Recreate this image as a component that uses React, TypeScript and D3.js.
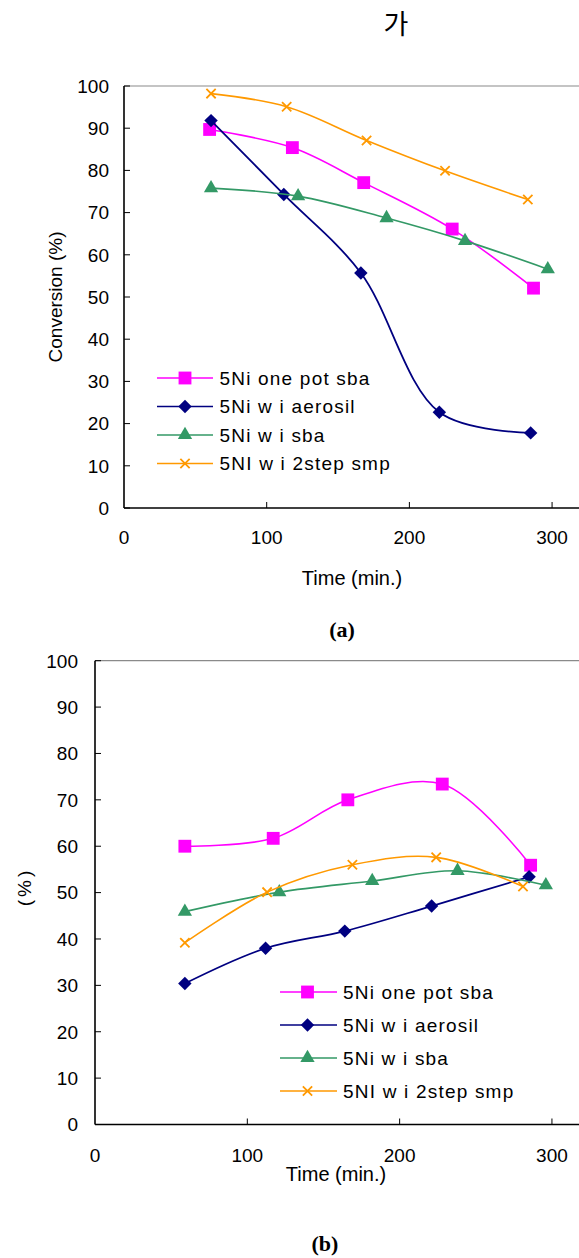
import React from "react";
import * as d3 from "d3";

// series names as in the legend
const seriesNames = ["5Ni one pot sba", "5Ni w i aerosil", "5Ni w i sba", "5NI w i 2step smp"];
const seriesColors = ["#ff00ff", "#000080", "#339966", "#ff9900"];
const seriesSymbols = ["square", "diamond", "triangle", "x"];

// (a) conversion
const aOnePotTime = [60, 118, 168, 230, 287];
const aOnePotConv = [89.7, 85.4, 77.1, 66.1, 52.1];
const aAerosilTime = [61, 112, 166, 221, 285];
const aAerosilConv = [91.8, 74.3, 55.7, 22.7, 17.8];
const aSbaTime = [61, 122, 184, 239, 297];
const aSbaConv = [75.8, 73.9, 68.7, 63.3, 56.6];
const a2stepTime = [61, 114, 170, 225, 283];
const a2stepConv = [98.2, 95.1, 87.1, 79.9, 73.1];

// (b) %
const bOnePotTime = [59, 117, 166, 228, 286];
const bOnePotVal = [60.0, 61.7, 70.0, 73.4, 55.9];
const bAerosilTime = [59, 112, 164, 221, 285];
const bAerosilVal = [30.4, 38.0, 41.7, 47.1, 53.4];
const bSbaTime = [59, 121, 182, 238, 296];
const bSbaVal = [45.9, 50.1, 52.5, 54.7, 51.6];
const b2stepTime = [59, 113, 169, 224, 281];
const b2stepVal = [39.2, 50.1, 56.0, 57.6, 51.3];

const xTicks = [0, 100, 200, 300];
const yTicks = [0, 10, 20, 30, 40, 50, 60, 70, 80, 90, 100];

const FONT = "'Liberation Sans', Arial, sans-serif";

function zip(xs: number[], ys: number[]) {
  return xs.map((x, i) => ({ x, y: ys[i] }));
}

const panelA = [
  zip(aOnePotTime, aOnePotConv),
  zip(aAerosilTime, aAerosilConv),
  zip(aSbaTime, aSbaConv),
  zip(a2stepTime, a2stepConv),
];
const panelB = [
  zip(bOnePotTime, bOnePotVal),
  zip(bAerosilTime, bAerosilVal),
  zip(bSbaTime, bSbaVal),
  zip(b2stepTime, b2stepVal),
];

function Marker({ kind, color, x, y }: { kind: string; color: string; x: number; y: number }) {
  if (kind === "square") {
    const p = d3.symbol().type(d3.symbolSquare).size(165)();
    return <path d={p || ""} transform={`translate(${x},${y})`} fill={color} />;
  }
  if (kind === "diamond") {
    const p = d3.symbol().type(d3.symbolSquare).size(90)();
    return <path d={p || ""} transform={`translate(${x},${y}) rotate(45)`} fill={color} />;
  }
  if (kind === "triangle") {
    const p = d3.symbol().type(d3.symbolTriangle).size(88)();
    return <path d={p || ""} transform={`translate(${x},${y})`} fill={color} />;
  }
  const p = d3.symbol().type(d3.symbolX).size(58)();
  return <path d={p || ""} transform={`translate(${x},${y})`} fill="none" stroke={color} strokeWidth={1.8} />;
}

type PanelProps = {
  data: { x: number; y: number }[][];
  left: number;
  right: number;
  top: number;
  bottom: number;
  yLabelGap: number;
  xLabelDy: number;
  xTitle: { x: number; y: number };
  yTitle: { x: number; y: number; text: string; spacing: number };
  legend: { x1: number; x2: number; mx: number; tx: number; y0: number; dy: number };
};

function Panel(props: PanelProps) {
  const { data, left, right, top, bottom, yLabelGap, xLabelDy, xTitle, yTitle, legend } = props;
  const x = d3.scaleLinear().domain([0, 320]).range([left, right]);
  const y = d3.scaleLinear().domain([0, 100]).range([bottom, top]);
  const line = d3
    .line<{ x: number; y: number }>()
    .x((d) => x(d.x))
    .y((d) => y(d.y))
    .curve(d3.curveCatmullRom.alpha(0.5));

  return (
    <g>
      {/* frame top (right side falls outside the picture) */}
      <line x1={x(0)} x2={x(320) + 4} y1={y(100)} y2={y(100)} stroke="#8a8a8a" strokeWidth={1.2} />

      {/* axes */}
      <line x1={x(0)} x2={x(0)} y1={y(100)} y2={y(0)} stroke="#000" strokeWidth={1.6} />
      <line x1={x(0)} x2={x(320) + 4} y1={y(0)} y2={y(0)} stroke="#000" strokeWidth={1.6} />
      {yTicks.map((t) => (
        <g key={"y" + t}>
          <line x1={x(0)} x2={x(0) + 6} y1={y(t)} y2={y(t)} stroke="#000" strokeWidth={1} />
          <text x={x(0) - yLabelGap} y={y(t)} dy="0.36em" textAnchor="end" fontFamily={FONT} fontSize={19} fill="#000">
            {t}
          </text>
        </g>
      ))}
      {xTicks.map((t) => (
        <g key={"x" + t}>
          {t > 0 && <line x1={x(t)} x2={x(t)} y1={y(0)} y2={y(0) - 6} stroke="#000" strokeWidth={1} />}
          <text x={x(t)} y={y(0) + xLabelDy} textAnchor="middle" fontFamily={FONT} fontSize={19} fill="#000">
            {t}
          </text>
        </g>
      ))}

      <text x={xTitle.x} y={xTitle.y} textAnchor="middle" fontFamily={FONT} fontSize={20} fill="#000">
        Time (min.)
      </text>
      <text
        transform={`translate(${yTitle.x},${yTitle.y}) rotate(-90)`}
        textAnchor="middle"
        dy="0.35em"
        fontFamily={FONT}
        fontSize={19}
        letterSpacing={yTitle.spacing}
        fill="#000"
      >
        {yTitle.text}
      </text>

      {/* series */}
      {data.map((s, i) => (
        <g key={"s" + i}>
          <path d={line(s) || ""} fill="none" stroke={seriesColors[i]} strokeWidth={i === 1 ? 1.8 : 1.6} />
          {s.map((d, j) => (
            <Marker key={j} kind={seriesSymbols[i]} color={seriesColors[i]} x={x(d.x)} y={y(d.y)} />
          ))}
        </g>
      ))}

      {/* legend */}
      {seriesNames.map((name, i) => {
        const ly = legend.y0 + i * legend.dy;
        return (
          <g key={"l" + i}>
            <line x1={legend.x1} x2={legend.x2} y1={ly} y2={ly} stroke={seriesColors[i]} strokeWidth={1.6} />
            <Marker kind={seriesSymbols[i]} color={seriesColors[i]} x={legend.mx} y={ly} />
            <text x={legend.tx} y={ly} dy="0.36em" fontFamily={FONT} fontSize={19} letterSpacing={1.2} fill="#000">
              {name}
            </text>
          </g>
        );
      })}
    </g>
  );
}

export default function App() {
  return (
    <svg
      width={579}
      height={1258}
      style={{ position: "absolute", left: 0, top: 0, background: "#fff" }}
    >
      <rect width={579} height={1258} fill="#fff" />
      <text x={396} y={25} dy="0.35em" textAnchor="middle" fontFamily="'Noto Sans CJK KR', sans-serif" fontSize={27} fill="#000">
        가
      </text>

      <Panel
        data={panelA}
        left={124}
        right={580.6}
        top={86}
        bottom={508}
        yLabelGap={15}
        xLabelDy={36}
        xTitle={{ x: 352, y: 585 }}
        yTitle={{ x: 55, y: 297, text: "Conversion (%)", spacing: 0 }}
        legend={{ x1: 157, x2: 213, mx: 185, tx: 219.5, y0: 378, dy: 28.5 }}
      />
      <text x={342} y={637} textAnchor="middle" fontFamily="'Liberation Serif', 'Times New Roman', serif" fontWeight="bold" fontSize={22} fill="#000">
        (a)
      </text>

      <Panel
        data={panelB}
        left={95}
        right={582.4}
        top={660.7}
        bottom={1124.5}
        yLabelGap={17}
        xLabelDy={37}
        xTitle={{ x: 336, y: 1181 }}
        yTitle={{ x: 24, y: 887, text: "(%)", spacing: 3 }}
        legend={{ x1: 280, x2: 337, mx: 307.5, tx: 343, y0: 992, dy: 33 }}
      />
      <text x={325} y={1251} textAnchor="middle" fontFamily="'Liberation Serif', 'Times New Roman', serif" fontWeight="bold" fontSize={22} fill="#000">
        (b)
      </text>
    </svg>
  );
}
